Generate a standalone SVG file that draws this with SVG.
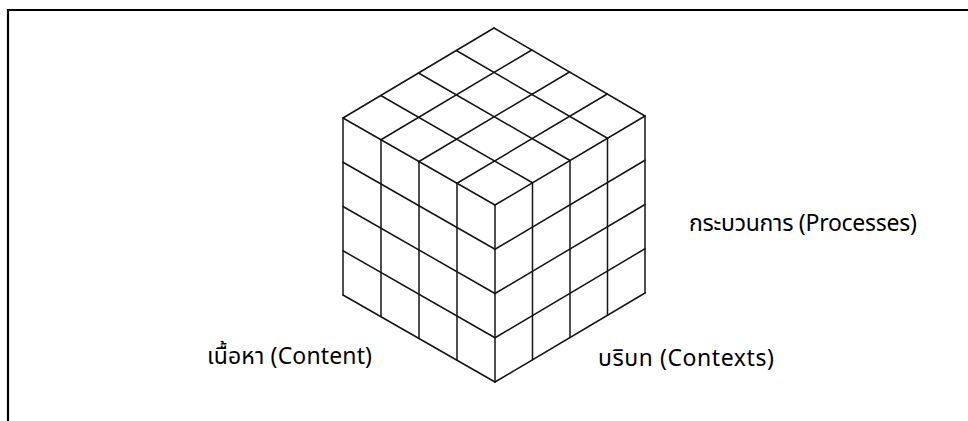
<svg xmlns="http://www.w3.org/2000/svg" width="968" height="421" viewBox="0 0 968 421">
<style>
  .frame { stroke: #000; stroke-width: 2.2; fill: none; }
  .grid line { stroke: #141414; stroke-width: 1.5; stroke-linecap: round; }
  .lbl { font-family: "Noto Sans Thai", "Noto Sans", "Tahoma", "DejaVu Sans", sans-serif; font-size: 23px; fill: #000; }
</style>
<rect width="968" height="421" fill="#fff"/>
<g id="frame">
  <path class="frame" d="M8,421 V10 H968"/>
</g>
<g id="cube" class="grid">
  <g id="top-face">
    <line x1="494" y1="28" x2="343" y2="118"/>
    <line x1="531.75" y1="50" x2="381" y2="139.75"/>
    <line x1="569.5" y1="72" x2="419" y2="161.5"/>
    <line x1="607.25" y1="94" x2="457" y2="183.25"/>
    <line x1="645" y1="116" x2="495" y2="205"/>
    <line x1="494" y1="28" x2="645" y2="116"/>
    <line x1="456.25" y1="50.5" x2="607.5" y2="138.25"/>
    <line x1="418.5" y1="73" x2="570" y2="160.5"/>
    <line x1="380.75" y1="95.5" x2="532.5" y2="182.75"/>
    <line x1="343" y1="118" x2="495" y2="205"/>
  </g>
  <g id="left-face">
    <line x1="343" y1="118" x2="343" y2="295"/>
    <line x1="381" y1="139.75" x2="381" y2="316.75"/>
    <line x1="419" y1="161.5" x2="419" y2="338.5"/>
    <line x1="457" y1="183.25" x2="457" y2="360.25"/>
    <line x1="495" y1="205" x2="495" y2="382"/>
    <line x1="343" y1="162.25" x2="495" y2="249.25"/>
    <line x1="343" y1="206.5" x2="495" y2="293.5"/>
    <line x1="343" y1="250.75" x2="495" y2="337.75"/>
    <line x1="343" y1="295" x2="495" y2="382"/>
  </g>
  <g id="right-face">
    <line x1="532.5" y1="182.75" x2="532.5" y2="359.75"/>
    <line x1="570" y1="160.5" x2="570" y2="337.5"/>
    <line x1="607.5" y1="138.25" x2="607.5" y2="315.25"/>
    <line x1="645" y1="116" x2="645" y2="293"/>
    <line x1="495" y1="249.25" x2="645" y2="160.25"/>
    <line x1="495" y1="293.5" x2="645" y2="204.5"/>
    <line x1="495" y1="337.75" x2="645" y2="248.75"/>
    <line x1="495" y1="382" x2="645" y2="293"/>
  </g>
</g>
<g id="label-processes">
  <text class="lbl" x="689" y="231" textLength="228" lengthAdjust="spacing">กระบวนการ (Processes)</text>
</g>
<g id="label-content">
  <text class="lbl" x="207" y="364" textLength="165" lengthAdjust="spacing">เนื้อหา (Content)</text>
</g>
<g id="label-contexts">
  <text class="lbl" x="598" y="366" textLength="176" lengthAdjust="spacing">บริบท (Contexts)</text>
</g>
</svg>
